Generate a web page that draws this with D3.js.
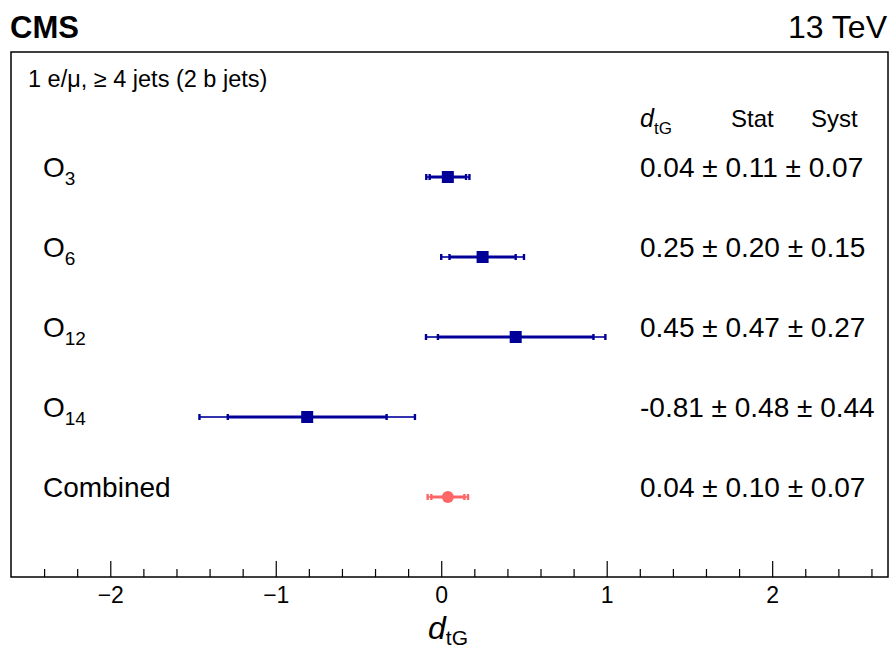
<!DOCTYPE html>
<html>
<head>
<meta charset="utf-8">
<script src="https://cdn.jsdelivr.net/npm/d3@7"></script>
<style>
  body { margin: 0; background: #fff; }
  text { font-family: "Liberation Sans", Arial, Helvetica, sans-serif; fill: #000; }
</style>
</head>
<body>
<div id="chart"></div>
<script>
const width = 893;
const height = 650;

// operators and fit results
const labels  = ["3", "6", "12", "14", "Combined"];
const central = [0.04, 0.25, 0.45, -0.81, 0.04];
const stat    = [0.11, 0.20, 0.47, 0.48, 0.10];
const syst    = [0.07, 0.15, 0.27, 0.44, 0.07];
const majorTicks = [-2, -1, 0, 1, 2];

const blue = "#000099";
const red = "#ff6666";

const frame = { left: 11, right: 888, top: 52, bottom: 577 };

const svg = d3.select("#chart")
  .append("svg")
  .attr("width", width)
  .attr("height", height);

const x = d3.scaleLinear()
  .domain([-2.6, 2.7])
  .range([frame.left, frame.right]);

const y = d3.scalePoint()
  .domain(labels)
  .range([177, 497]);

const rows = labels.map((l, i) => ({
  label: l,
  value: central[i],
  stat: stat[i],
  syst: syst[i],
  total: Math.sqrt(stat[i] * stat[i] + syst[i] * syst[i]),
  combined: l === "Combined"
}));

// frame
svg.append("rect")
  .attr("x", frame.left)
  .attr("y", frame.top)
  .attr("width", frame.right - frame.left)
  .attr("height", frame.bottom - frame.top)
  .attr("fill", "none")
  .attr("stroke", "#000")
  .attr("stroke-width", 1.5);

// x axis, ticks pointing inward
const minor = d3.range(-24, 27, 2).map(v => v / 10)
  .filter(v => !majorTicks.some(m => Math.abs(m - v) < 1e-6));

svg.append("g")
  .attr("transform", `translate(0,${frame.bottom})`)
  .call(d3.axisBottom(x).tickValues(minor).tickSize(-8).tickFormat(""))
  .call(g => g.select(".domain").remove())
  .selectAll("line").attr("stroke-width", 1.2);

const ax = svg.append("g")
  .attr("transform", `translate(0,${frame.bottom})`)
  .call(d3.axisBottom(x).tickValues(majorTicks).tickSize(-16).tickPadding(10).tickFormat(d3.format("d")));
ax.select(".domain").remove();
ax.selectAll("line").attr("stroke-width", 1.2);
ax.selectAll("text")
  .attr("y", 26)
  .attr("dy", 0)
  .style("font-size", "23px")
  .style("font-family", "'Liberation Sans', Arial, sans-serif");

// axis title
const xt = svg.append("text")
  .attr("x", 428)
  .attr("y", 639)
  .style("font-size", "32px");
xt.append("tspan").style("font-style", "italic").text("d");
xt.append("tspan").attr("dy", 6).style("font-size", "21px").text("tG");

// header texts
svg.append("text")
  .attr("x", 10)
  .attr("y", 38)
  .style("font-size", "31px")
  .style("font-weight", "bold")
  .text("CMS");

svg.append("text")
  .attr("x", 887)
  .attr("y", 38)
  .attr("text-anchor", "end")
  .style("font-size", "32px")
  .text("13 TeV");

svg.append("text")
  .attr("x", 28)
  .attr("y", 87)
  .style("font-size", "23.5px")
  .text("1 e/\u03bc, \u2265 4 jets (2 b jets)");

const hd = svg.append("text")
  .attr("x", 640)
  .attr("y", 127)
  .style("font-size", "25px");
hd.append("tspan").style("font-style", "italic").text("d");
hd.append("tspan").attr("dy", 7).style("font-size", "17px").text("tG");

svg.append("text").attr("x", 731).attr("y", 127).style("font-size", "24px").text("Stat");
svg.append("text").attr("x", 811).attr("y", 127).style("font-size", "24px").text("Syst");

// row labels
svg.append("g")
  .selectAll("text")
  .data(rows)
  .enter()
  .append("text")
  .attr("x", 43)
  .attr("y", d => y(d.label))
  .style("font-size", "28px")
  .each(function(d) {
    const t = d3.select(this);
    if (d.combined) {
      t.text("Combined");
    } else {
      t.append("tspan").text("O");
      t.append("tspan").attr("dy", 8).style("font-size", "19px").text(d.label);
    }
  });

// values
svg.append("g")
  .selectAll("text")
  .data(rows)
  .enter()
  .append("text")
  .attr("x", 640)
  .attr("y", d => y(d.label))
  .style("font-size", "28px")
  .text(d => `${d.value.toFixed(2)} \u00b1 ${d.stat.toFixed(2)} \u00b1 ${d.syst.toFixed(2)}`);

// error bars
const bars = svg.append("g")
  .selectAll("g")
  .data(rows)
  .enter()
  .append("g")
  .attr("transform", d => `translate(0,${y(d.label)})`);

bars.append("line")
  .attr("x1", d => x(d.value - d.total))
  .attr("x2", d => x(d.value + d.total))
  .attr("stroke", d => d.combined ? red : blue)
  .attr("stroke-opacity", 0.8)
  .attr("stroke-width", 2);

bars.append("line")
  .attr("x1", d => x(d.value - d.stat))
  .attr("x2", d => x(d.value + d.stat))
  .attr("stroke", d => d.combined ? red : blue)
  .attr("stroke-width", 3);

bars.selectAll("rect.cap")
  .data(d => [d.value - d.total, d.value - d.stat, d.value + d.stat, d.value + d.total]
    .map(v => ({ v, combined: d.combined })))
  .enter()
  .append("rect")
  .attr("class", "cap")
  .attr("x", d => x(d.v) - 1.2)
  .attr("y", -3)
  .attr("width", 2.4)
  .attr("height", 6)
  .attr("fill", d => d.combined ? red : blue);

bars.filter(d => !d.combined)
  .append("rect")
  .attr("x", d => x(d.value) - 6)
  .attr("y", -6)
  .attr("width", 12)
  .attr("height", 12)
  .attr("fill", blue);

bars.filter(d => d.combined)
  .append("circle")
  .attr("cx", d => x(d.value))
  .attr("r", 6)
  .attr("fill", red);
</script>
</body>
</html>
